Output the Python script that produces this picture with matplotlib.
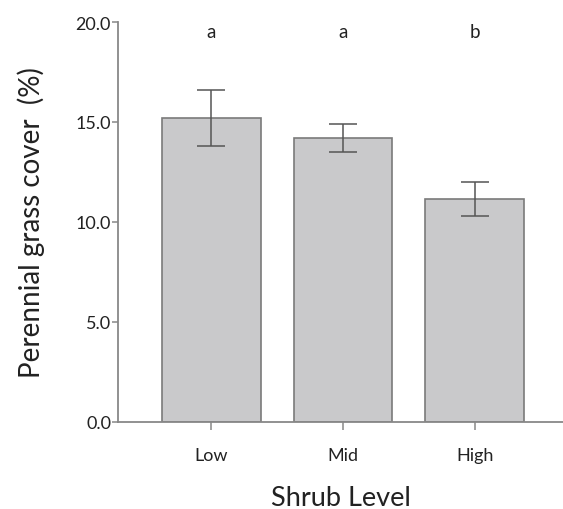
import matplotlib
matplotlib.use("Agg")
import matplotlib.pyplot as plt

categories = ["Low", "Mid", "High"]
values = [15.2, 14.2, 11.15]
errors = [1.42, 0.69, 0.86]
letters = ["a", "a", "b"]
yticks = [0.0, 5.0, 10.0, 15.0, 20.0]

plt.rcParams['font.family'] = ['Lato', 'DejaVu Sans']

fig = plt.figure(figsize=(5.63, 5.10), dpi=100)
ax = fig.add_axes([118/563, (510-422.7)/510, 1 - 118/563, (422.7-23)/510])

x = list(range(len(categories)))
ax.bar(x, values, width=0.75, color="#c9c9cb", edgecolor="#7a7a7a", linewidth=1.2, zorder=2)
ax.errorbar(x, values, yerr=errors, fmt="none", ecolor="#555555", elinewidth=1.1,
            capsize=10, capthick=1.1, zorder=3)
for xi, lt in zip(x, letters):
    ax.text(xi, 19.5, lt, ha="center", va="center", fontsize=13.5, color="#222222")

ax.set_xlim(-0.705, 2.667)
ax.set_ylim(0, 20)
ax.set_xticks(x)
ax.set_xticklabels(categories, fontsize=13, color="#222222")
ax.set_yticks(yticks)
ax.set_yticklabels([f"{v:.1f}" for v in yticks], fontsize=13, color="#222222")
ax.tick_params(axis="both", direction="out", length=4, width=1.1, color="#888888")
ax.tick_params(axis="x", length=6, pad=12)
ax.tick_params(axis="y", pad=1)
for s in ["top", "right"]:
    ax.spines[s].set_visible(False)
for s in ["left", "bottom"]:
    ax.spines[s].set_color("#888888")
    ax.spines[s].set_linewidth(1.3)

ax.set_xlabel("Shrub Level", fontsize=19.5, color="#222222", labelpad=16)
ax.set_ylabel("Perennial grass cover  (%)", fontsize=20, color="#222222", labelpad=22)

fig.savefig("out.png", dpi=100)
